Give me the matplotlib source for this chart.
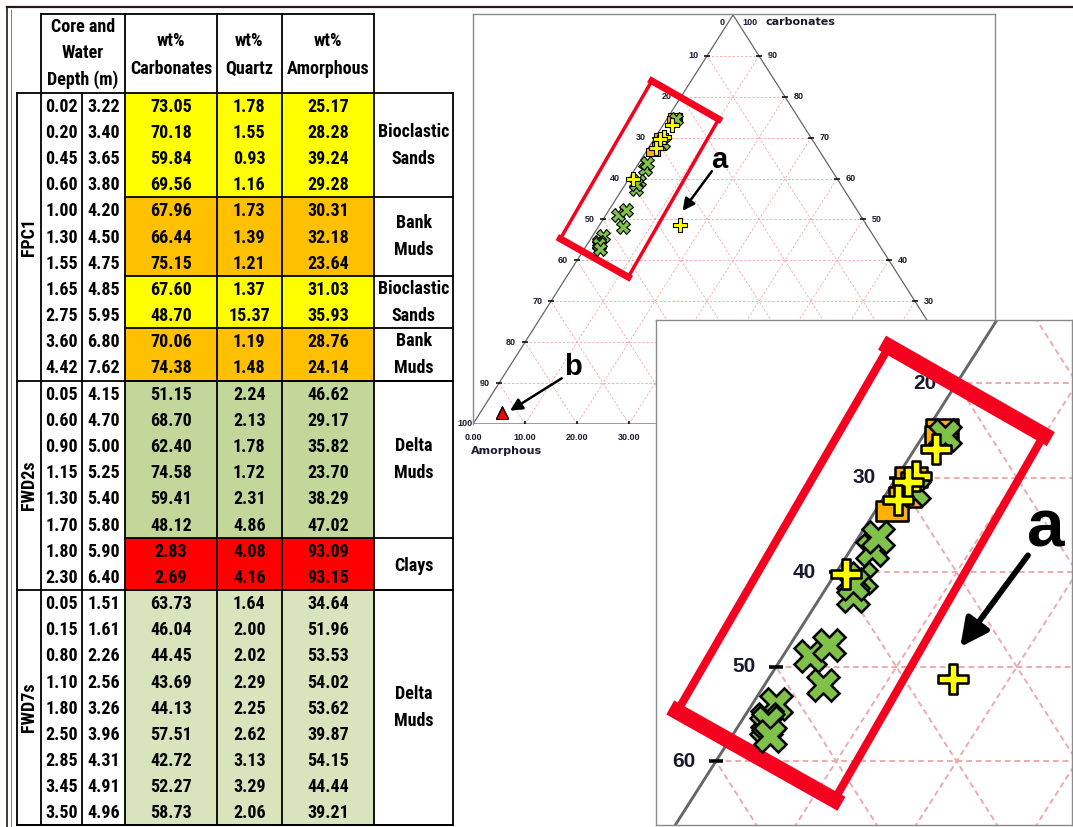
import matplotlib
matplotlib.use("Agg")
import matplotlib.pyplot as plt
from matplotlib import font_manager
from matplotlib.path import Path
from matplotlib.patches import Rectangle

W, H = 1073, 827

# sample table (one entry per row, cores in order FPC1, FWD2s, FWD7s)
core_names = ["FPC1", "FWD2s", "FWD7s"]
core_rows = [11, 8, 9]
core_depth = [0.02, 0.20, 0.45, 0.60, 1.00, 1.30, 1.55, 1.65, 2.75, 3.60, 4.42,
              0.05, 0.60, 0.90, 1.15, 1.30, 1.70, 1.80, 2.30,
              0.05, 0.15, 0.80, 1.10, 1.80, 2.50, 2.85, 3.45, 3.50]
water_depth = [3.22, 3.40, 3.65, 3.80, 4.20, 4.50, 4.75, 4.85, 5.95, 6.80, 7.62,
               4.15, 4.70, 5.00, 5.25, 5.40, 5.80, 5.90, 6.40,
               1.51, 1.61, 2.26, 2.56, 3.26, 3.96, 4.31, 4.91, 4.96]
carbonates = [73.05, 70.18, 59.84, 69.56, 67.96, 66.44, 75.15, 67.60, 48.70, 70.06, 74.38,
              51.15, 68.70, 62.40, 74.58, 59.41, 48.12, 2.83, 2.69,
              63.73, 46.04, 44.45, 43.69, 44.13, 57.51, 42.72, 52.27, 58.73]
quartz = [1.78, 1.55, 0.93, 1.16, 1.73, 1.39, 1.21, 1.37, 15.37, 1.19, 1.48,
          2.24, 2.13, 1.78, 1.72, 2.31, 4.86, 4.08, 4.16,
          1.64, 2.00, 2.02, 2.29, 2.25, 2.62, 3.13, 3.29, 2.06]
amorphous = [25.17, 28.28, 39.24, 29.28, 30.31, 32.18, 23.64, 31.03, 35.93, 28.76, 24.14,
             46.62, 29.17, 35.82, 23.70, 38.29, 47.02, 93.09, 93.15,
             34.64, 51.96, 53.53, 54.02, 53.62, 39.87, 54.15, 44.44, 39.21]
facies = ["Bioclastic Sands", "Bank Muds", "Bioclastic Sands", "Bank Muds",
          "Delta Muds", "Clays", "Delta Muds"]
facies_rows = [4, 3, 2, 2, 6, 2, 9]
facies_fill = ["#ffff00", "#ffc000", "#ffff00", "#ffc000", "#c4d79b", "#ff0000", "#d8e4bc"]

row_facies = [f for f, n in zip(facies, facies_rows) for _ in range(n)]

# table lettering: a narrow face when one is installed, plain Liberation Sans otherwise
installed = {f.name for f in font_manager.fontManager.ttflist}
narrow = next((n for n in ["Liberation Sans Narrow", "Arial Narrow", "Roboto Condensed"]
               if n in installed), None)
if narrow:
    table_family, table_size = [narrow, "DejaVu Sans"], 13
else:
    table_family, table_size = ["Liberation Sans", "DejaVu Sans"], 11.5

fig = plt.figure(figsize=(W / 100, H / 100), dpi=100)

# ---------------- page / table, drawn in pixel units ----------------
page = fig.add_axes([0, 0, 1, 1])
page.set_xlim(0, W)
page.set_ylim(H, 0)
page.axis("off")

page.plot([7, W], [6.7, 6.7], color="#2a1818", lw=1.6)
page.plot([7.3, 7.3], [6.7, H], color="#2a1818", lw=1.2)
page.plot([10.7, 10.7], [10, H], color="#777777", lw=0.7)

xc = [17.3, 40.7, 82.3, 125.3, 216.7, 281.7, 374.3, 453.3]
y_head, y0, rh = 14.0, 92.7, 26.17
n_rows = len(carbonates)
y_end = y0 + n_rows * rh
tfont = dict(fontsize=table_size, fontweight="bold", family=table_family,
             color="black", ha="center", va="center")
lk = dict(color="black", lw=1.3, solid_capstyle="projecting")

# coloured value cells
r = 0
for n, col in zip(facies_rows, facies_fill):
    page.add_patch(Rectangle((xc[3], y0 + r * rh), xc[6] - xc[3], n * rh,
                             facecolor=col, edgecolor="none", zorder=0))
    r += n

# header
page.plot([xc[1], xc[6]], [y_head, y_head], **lk)
for x in [xc[1], xc[3], xc[4], xc[5], xc[6]]:
    page.plot([x, x], [y_head, y0], **lk)
for txt, yy in zip(["Core and", "Water", "Depth (m)"], [27.0, 53.5, 80.0]):
    page.text((xc[1] + xc[3]) / 2, yy, txt, **tfont)
for i, name in enumerate(["Carbonates", "Quartz", "Amorphous"]):
    cx = (xc[3 + i] + xc[4 + i]) / 2
    page.text(cx, 40.5, "wt%", **tfont)
    page.text(cx, 68.5, name, **tfont)

# body grid
page.plot([xc[0], xc[-1]], [y0, y0], **lk)
page.plot([xc[0], xc[-1]], [y_end, y_end], **lk)
for x in xc:
    page.plot([x, x], [y0, y_end], **lk)

r = 0
for name, n in zip(core_names, core_rows):
    page.plot([xc[0], xc[-1]], [y0 + (r + n) * rh] * 2, **lk)
    page.text((xc[0] + xc[1]) / 2, y0 + (r + n / 2) * rh, name, rotation=90, **tfont)
    r += n

r = 0
for name, n in zip(facies, facies_rows):
    page.plot([xc[3], xc[-1]], [y0 + (r + n) * rh] * 2, **lk)
    yc = y0 + (r + n / 2) * rh
    words = name.split()
    if len(words) == 1:
        page.text((xc[6] + xc[7]) / 2, yc + 2, words[0], **tfont)
    else:
        page.text((xc[6] + xc[7]) / 2, yc - 13.5, words[0], **tfont)
        page.text((xc[6] + xc[7]) / 2, yc + 13.5, words[1], **tfont)
    r += n

for i in range(n_rows):
    yc = y0 + (i + 0.5) * rh + 1
    vals = [core_depth[i], water_depth[i], carbonates[i], quartz[i], amorphous[i]]
    for j, v in enumerate(vals):
        page.text((xc[1 + j] + xc[2 + j]) / 2, yc, "%.2f" % v, **tfont)

# ---------------- ternary diagram ----------------
plus_w = 0.24
plus_path = Path([(-plus_w, 1), (plus_w, 1), (plus_w, plus_w), (1, plus_w), (1, -plus_w),
                  (plus_w, -plus_w), (plus_w, -1), (-plus_w, -1), (-plus_w, -plus_w),
                  (-1, -plus_w), (-1, plus_w), (-plus_w, plus_w), (-plus_w, 1)], closed=True)
rect_path = Path([(-1, -0.6), (1, -0.6), (1, 0.6), (-1, 0.6), (-1, -0.6)], closed=True)

facies_marker = {
    "Bank Muds": dict(marker=rect_path, mfc="#ffb000", ms=10),
    "Delta Muds": dict(marker="X", mfc="#80c14a", ms=10),
    "Bioclastic Sands": dict(marker=plus_path, mfc="#ffff00", ms=9.5),
    "Clays": dict(marker="^", mfc="#ff0000", ms=8),
}

# highlight box and arrows, in (x, carbonates) diagram units
box_corners = [(34.38, 83.88), (47.25, 74.52), (29.85, 35.92), (16.79, 45.28)]
arrow_a = ((45.93, 61.8), (40.3, 52.1))
arrow_b = ((17.06, 11.17), (7.12, 3.25))


def tern_x(c, q):
    return q + c / 2.0


def put(ax, x, y, s, clip, **kw):
    # in the magnified view only letter the points that fall inside it
    if clip:
        x0, x1 = ax.get_xlim()
        y0_, y1 = ax.get_ylim()
        if not (x0 < x < x1 and y0_ < y < y1):
            return
    ax.text(x, y, s, clip_on=clip, **kw)


def draw_ternary(ax, k, clip):
    grid_kw = dict(color="#eeaaaa", lw=0.6 * k, ls=(0, (3, 2)), zorder=1)
    for v in range(10, 100, 10):
        ax.plot([v / 2, 100 - v / 2], [v, v], **grid_kw)
        ax.plot([v, v + (100 - v) / 2], [0, 100 - v], **grid_kw)
        ax.plot([100 - v, (100 - v) / 2], [0, 100 - v], **grid_kw)
    ax.plot([0, 50, 100, 0], [0, 100, 0, 0], color="#666666", lw=0.9 * k, zorder=2)

    tick_kw = dict(color="black", lw=1.1 * k, zorder=3, solid_capstyle="butt")
    lab = dict(fontsize=6.5 * k, fontweight="bold", family="Liberation Sans",
               color="#1a1a2e", zorder=4, va="center")
    big = dict(fontsize=8.0 * k, fontweight="bold", family="DejaVu Sans",
               color="#1a1a2e", va="center")
    for c in range(10, 100, 10):
        xl, xr = c / 2, 100 - c / 2
        ax.plot([xl - 0.6, xl + 0.6], [c, c], **tick_kw)
        ax.plot([xr - 0.6, xr + 0.6], [c, c], **tick_kw)
        put(ax, xl - 1.7, c, str(100 - c), clip, ha="right", **lab)
        put(ax, xr + 1.7, c, str(c), clip, ha="left", **lab)
    put(ax, 48.4, 98.2, "0", clip, ha="right", **lab)
    put(ax, 51.9, 98.2, "100", clip, ha="left", **lab)
    put(ax, 0, 0, "100", clip, ha="right", **lab)
    put(ax, 56.2, 98.2, "carbonates", clip, ha="left", **big)
    for x in range(0, 101, 10):
        if 0 < x < 100:
            ax.plot([x, x], [-0.8, 0.8], **tick_kw)
        put(ax, x, -3.4, "%.2f" % x, clip, ha="center", **lab)
    put(ax, 6.5, -6.5, "Amorphous", clip, ha="center", **big)

    # highlight box: thin long sides, heavy short sides
    pts = box_corners + [box_corners[0]]
    for i in range(4):
        (xa, ya), (xb, yb) = pts[i], pts[i + 1]
        heavy = i % 2 == 0
        ax.plot([xa, xb], [ya, yb], color="#f5001e", lw=(5.0 if heavy else 2.5) * k,
                solid_capstyle="projecting", zorder=5)

    for name in ["Bank Muds", "Delta Muds", "Bioclastic Sands", "Clays"]:
        idx = [i for i, f in enumerate(row_facies) if f == name]
        xs = [tern_x(carbonates[i], quartz[i]) for i in idx]
        ys = [carbonates[i] for i in idx]
        st = facies_marker[name]
        ax.plot(xs, ys, ls="none", marker=st["marker"], mfc=st["mfc"], mec="black",
                ms=st["ms"] * k, mew=0.8 * k, zorder=6)

    for (tail, head), letter, lpos in [(arrow_a, "a", (47.4, 62.7)),
                                       (arrow_b, "b", (19.2, 12.0))]:
        ax.annotate("", xy=head, xytext=tail, annotation_clip=True,
                    arrowprops=dict(arrowstyle="-|>", color="black", lw=1.8 * k,
                                    mutation_scale=18 * k, shrinkA=0, shrinkB=0),
                    zorder=7)
        put(ax, lpos[0], lpos[1], letter, clip, ha="center", va="baseline",
            fontsize=21 * k, fontweight="bold", family="Liberation Sans",
            color="black", zorder=7)


def px_axes(x0, y0_, x1, y1):
    return fig.add_axes([x0 / W, 1 - y1 / H, (x1 - x0) / W, (y1 - y0_) / H])


main = px_axes(472.5, 14, 995, 424)
main.set_xlim(-0.1, 100.38)
main.set_ylim(0, 100.24)
main.set_xticks([])
main.set_yticks([])
for s in ["left", "top", "right"]:
    main.spines[s].set_color("#8a8a8a")
    main.spines[s].set_linewidth(1.0)
main.spines["bottom"].set_visible(False)
draw_ternary(main, 1.0, clip=False)

zoom = px_axes(655.7, 320, 1071.7, 825)
zoom.set_xlim(15.0, 49.56)
zoom.set_ylim(33.26, 86.7)
zoom.set_xticks([])
zoom.set_yticks([])
for s in zoom.spines.values():
    s.set_color("#8a8a8a")
    s.set_linewidth(1.0)
draw_ternary(zoom, 2.31, clip=True)

fig.savefig("out.png", dpi=100)
